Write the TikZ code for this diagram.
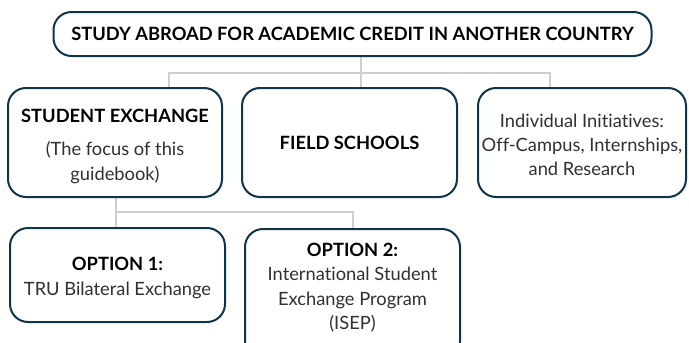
\documentclass[tikz,border=0pt]{standalone}
\usepackage{fontspec}
\setmainfont{Lato}[Ligatures=NoCommon]
\usetikzlibrary{backgrounds}
\definecolor{boxline}{HTML}{0F3549}
\definecolor{linkline}{HTML}{CFCFCF}
\definecolor{bodytext}{HTML}{303030}
\begin{document}
\begin{tikzpicture}[x=1pt,y=-1pt,
  box/.style={draw=boxline,line width=2pt,rounded corners=18pt,fill=white,align=center,inner sep=0pt},
  link/.style={draw=linkline,line width=2pt},
  hd/.style={font=\fontsize{18.3}{24}\selectfont\bfseries,text=black},
  tx/.style={font=\fontsize{18.3}{24.3}\selectfont,text=bodytext,align=center}]
\useasboundingbox (0,0) rectangle (689,343);
\clip (0,0) rectangle (689,343);
\node[box,minimum width=598pt,minimum height=44pt,hd] (top) at (352.5,34) {STUDY ABROAD FOR ACADEMIC CREDIT IN ANOTHER COUNTRY};
\node[box,minimum width=214pt,minimum height=109pt] (se) at (115,142.5) {};
\node[hd] (seh) at (115,116) {STUDENT EXCHANGE};
\node[tx] (set) at (115,162.5) {(The focus of this\\guidebook)};
\node[box,minimum width=215pt,minimum height=109pt,hd] (fs) at (349.5,142.5) {FIELD SCHOOLS};
\node[box,minimum width=208pt,minimum height=109pt] (ii) at (582,142.5) {};
\node[tx] (iit) at (582,145) {Individual Initiatives:\\Off-Campus, Internships,\\and Research};
\node[box,minimum width=215pt,minimum height=94pt] (o1) at (117.5,275) {};
\node[tx] (o1t) at (117.5,278) {\textcolor{black}{\bfseries OPTION 1:}\\TRU Bilateral Exchange};
\node[box,minimum width=215pt,minimum height=130pt,anchor=north] (o2) at (352.5,228) {};
\node[tx] (o2t) at (352.5,287.5) {\textcolor{black}{\bfseries OPTION 2:}\\International Student\\Exchange Program\\(ISEP)};
\coordinate (jt) at (361,73);
\coordinate (bl) at (169,73);
\coordinate (br) at (550,73);
\coordinate (jb) at (116,212);
\coordinate (bb) at (353,212);
\begin{scope}[on background layer]
\draw[link] (top.south -| jt) -- (jt);
\draw[link] (bl |- se.north) -- (bl) -- (br) -- (br |- ii.north);
\draw[link] (jt) -- (jt |- fs.north);
\draw[link] (se.south -| jb) -- (jb) -- (bb) -- (bb |- o2.north);
\draw[link] (jb) -- (jb |- o1.north);
\end{scope}
\end{tikzpicture}
\end{document}
